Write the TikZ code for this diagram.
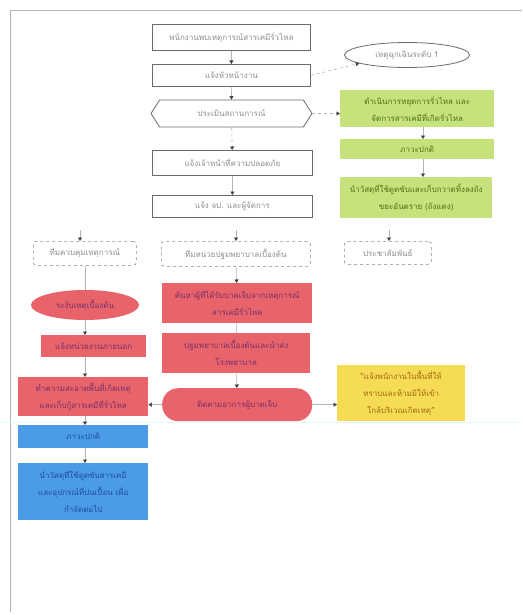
\documentclass[tikz,border=0pt]{standalone}
\usepackage{fontspec}
\newfontfamily\thaifont[Script=Thai]{Loma}
\usetikzlibrary{arrows.meta,shapes.geometric,shapes.symbols}
\definecolor{boxline}{HTML}{6A6A6A}
\definecolor{boxtext}{HTML}{8C8C8C}
\definecolor{redfill}{HTML}{E9636B}
\definecolor{redtext}{HTML}{74306A}
\definecolor{greenfill}{HTML}{C6E27C}
\definecolor{greentext}{HTML}{4E6E14}
\definecolor{bluefill}{HTML}{4C9BE8}
\definecolor{bluetext}{HTML}{1E4C96}
\definecolor{yellowfill}{HTML}{F6DC55}
\definecolor{yellowtext}{HTML}{A0680C}
\definecolor{conn}{HTML}{B4B4B4}
\definecolor{tipc}{HTML}{404040}
\tikzset{
  x=1pt, y=-1pt,
  every node/.style={font=\thaifont\fontsize{8}{17}\selectfont, align=center, inner sep=1pt},
  plain/.style={draw=boxline, line width=0.8pt, fill=white, text=boxtext, anchor=north west},
  dashbox/.style={draw=boxline!80, dashed, line width=0.6pt, rounded corners=3pt, fill=white, text=boxtext, anchor=north west},
  redbox/.style={fill=redfill, text=redtext, anchor=north west},
  greenbox/.style={fill=greenfill, text=greentext, anchor=north west},
  bluebox/.style={fill=bluefill, text=bluetext, anchor=north west},
  yellowbox/.style={fill=yellowfill, text=yellowtext, anchor=north west},
  link/.style={draw=conn, line width=0.6pt, -{Triangle[width=4pt,length=3.5pt,fill=tipc,color=tipc]}},
  dlink/.style={link, dashed},
  plainlink/.style={draw=conn, line width=0.6pt}
}
\begin{document}
\begin{tikzpicture}
\useasboundingbox (0,0) rectangle (522,615);
\fill[white] (0,0) rectangle (522,615);
% frame of the scanned page
\draw[conn, line width=0.6pt] (10,612) -- (10,10) -- (522,10);
\draw[cyan!10, line width=0.8pt] (0,422) -- (522,422);

% main column
\node[plain, minimum width=158, minimum height=26] (n1) at (152,24) {พนักงานพบเหตุการณ์สารเคมีรั่วไหล};
\node[plain, minimum width=158, minimum height=22] (n2) at (152,64) {แจ้งหัวหน้างาน};
\node[draw=boxline, line width=0.8pt, ellipse, fill=white, text=boxtext, minimum width=125, minimum height=25] (ell) at (407,55) {เหตุฉุกเฉินระดับ 1};
\node[draw=boxline, line width=0.8pt, fill=white, text=boxtext, signal, signal to=east and west, signal pointer angle=115, minimum width=161, minimum height=27] (hex) at (231.5,113.5) {ประเมินสถานการณ์};
\node[plain, minimum width=160, minimum height=25] (n3) at (152,150) {แจ้งเจ้าหน้าที่ความปลอดภัย};
\node[plain, minimum width=160, minimum height=22] (n4) at (152,195) {แจ้ง จป. และผู้จัดการ};

% green column
\node[greenbox, minimum width=154, minimum height=37] (g1) at (340,90) {ดำเนินการหยุดการรั่วไหล และ\\จัดการสารเคมีที่เกิดรั่วไหล};
\node[greenbox, minimum width=154, minimum height=20] (g2) at (340,139) {ภาวะปกติ};
\node[greenbox, minimum width=152, minimum height=41] (g3) at (340,177) {นำวัสดุที่ใช้ดูดซับและเก็บกวาดทิ้งลงถัง\\ขยะอันตราย (ถังแดง)};

% team boxes
\node[dashbox, minimum width=103, minimum height=24] (t1) at (33,241) {ทีมควบคุมเหตุการณ์};
\node[dashbox, minimum width=149, minimum height=25] (t2) at (161,241) {ทีมหน่วยปฐมพยาบาลเบื้องต้น};
\node[dashbox, minimum width=87, minimum height=23] (t3) at (344,241) {ประชาสัมพันธ์};
\coordinate (f1) at (80,230);
\coordinate (f2) at (236,230);
\coordinate (f3) at (389,230);

% left column
\node[ellipse, fill=redfill, text=redtext, minimum width=108, minimum height=30] (r1) at (85,305) {ระงับเหตุเบื้องต้น};
\node[redbox, minimum width=105, minimum height=22] (r2) at (41,335) {แจ้งหน่วยงานภายนอก};
\node[redbox, minimum width=130, minimum height=39] (r3) at (18,377) {ทำความสะอาดพื้นที่เกิดเหตุ\\และเก็บกู้สารเคมีที่รั่วไหล};
\node[bluebox, minimum width=130, minimum height=23] (b1) at (18,425) {ภาวะปกติ};
\node[bluebox, minimum width=130, minimum height=57] (b2) at (18,463) {นำวัสดุที่ใช้ดูดซับสารเคมี\\และอุปกรณ์ที่ปนเปื้อน เพื่อ\\กำจัดต่อไป};

% middle column
\node[redbox, minimum width=150, minimum height=40] (m1) at (162,283) {ค้นหาผู้ที่ได้รับบาดเจ็บจากเหตุการณ์\\สารเคมีรั่วไหล};
\node[redbox, minimum width=148, minimum height=40] (m2) at (162,333) {ปฐมพยาบาลเบื้องต้นและนำส่ง\\โรงพยาบาล};
\node[redbox, rounded corners=16pt, minimum width=150, minimum height=33] (m3) at (162,388) {ติดตามอาการผู้บาดเจ็บ};
\node[yellowbox, minimum width=128, minimum height=56] (y1) at (337,365) {“แจ้งพนักงานในพื้นที่ให้\\ทราบและห้ามมิให้เข้า\\ใกล้บริเวณเกิดเหตุ”};

% connectors
\draw[link] (n1) -- (n2);
\draw[link] (n2) -- (hex);
\draw[dlink] (n2.east) -- (ell.190);
\draw[dlink] (hex.east) -- (g1.west |- hex.east);
\draw[dlink] (hex) -- (n3);
\draw[link] (n3) -- (n4);
\draw[link] (g1.south -| 423,0) -- (g2.north -| 423,0);
\draw[link] (g2.south -| 423,0) -- (g3.north -| 423,0);
\draw[link] (f1) -- (f1 |- t1.north);
\draw[link] (f2) -- (f2 |- t2.north);
\draw[link] (f3) -- (f3 |- t3.north);
\draw[plainlink] (t1.south -| r1) -- (r1.north);
\draw[link] (r1.south) -- (r1.south |- r2.north);
\draw[link] (r1.south |- r2.south) -- (r1.south |- r3.north);
\draw[link] (r1.south |- r3.south) -- (r1.south |- b1.north);
\draw[link] (r1.south |- b1.south) -- (r1.south |- b2.north);
\draw[link] (t2) -- (m1);
\draw[plainlink] (m1) -- (m2);
\draw[link] (m2) -- (m3);
\draw[link] (m3.west) -- (r3.east |- m3.west);
\draw[link] (m3.east) -- (y1.west |- m3.east);
\end{tikzpicture}
\end{document}
